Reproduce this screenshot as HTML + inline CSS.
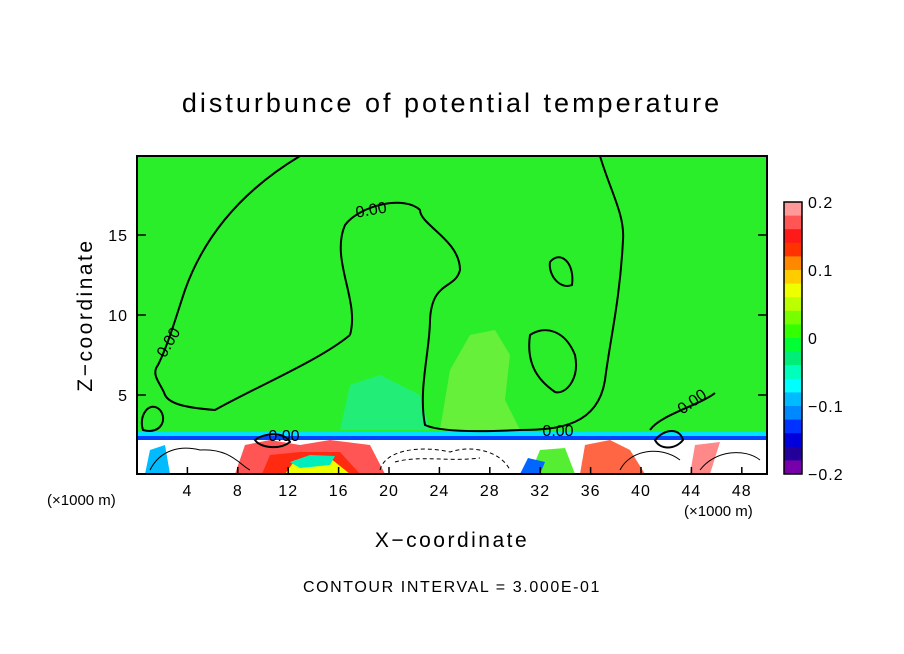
<!DOCTYPE html>
<html><head><meta charset="utf-8"><style>
body{margin:0;background:#fff;width:904px;height:654px;overflow:hidden}
svg{display:block}
text{font-family:"Liberation Sans",sans-serif;fill:#000}
</style></head><body>
<svg id="chart" width="904" height="654" viewBox="0 0 904 654">
<text x="452" y="112" font-size="27" text-anchor="middle" letter-spacing="3">disturbunce of potential temperature</text>
<g id="plot">
<rect x="137" y="156" width="630" height="318" fill="#2aee2a"/>
<path d="M440,430 L450,370 L470,335 L495,330 L510,355 L505,400 L520,430 Z" fill="#66f03a"/>
<path d="M340,430 L350,385 L380,375 L420,395 L430,430 Z" fill="#22ee77"/>
<rect x="137" y="432" width="630" height="5" fill="#00e0ff"/>
<rect x="137" y="436" width="630" height="4" fill="#0044ff"/>
<rect x="137" y="440" width="630" height="34" fill="#fff"/>
<path d="M235,474 L245,445 L270,440 L300,445 L330,440 L370,445 L385,474 Z" fill="#ff5555"/>
<path d="M262,474 L270,455 L300,452 L340,452 L360,474 Z" fill="#ff2a10"/>
<path d="M285,474 L295,460 L330,458 L350,474 Z" fill="#eeff00"/>
<path d="M290,462 L310,455 L335,456 L330,465 L300,468 Z" fill="#00eebb"/>
<path d="M580,474 L585,445 L610,440 L630,450 L645,474 Z" fill="#ff6644"/>
<path d="M530,474 L540,450 L565,448 L575,474 Z" fill="#55ee33"/>
<path d="M520,474 L528,458 L545,462 L540,474 Z" fill="#0066ff"/>
<path d="M690,474 L695,445 L720,442 L710,474 Z" fill="#ff8888"/>
<path d="M145,474 L150,450 L165,445 L170,474 Z" fill="#00bbff"/>
<g fill="none" stroke="#000" stroke-width="2">
<path d="M300,156 C260,180 210,220 185,290 C175,320 168,345 158,365 C150,375 162,385 165,395 C170,405 190,408 215,410 C260,385 320,360 350,335"/>
<path d="M600,156 C610,190 625,215 623,240 C620,300 610,340 605,380 C598,425 560,430 520,430 C480,432 440,432 425,425 C418,390 430,350 430,320 C432,280 455,290 460,270 C460,240 420,225 420,210 C405,195 360,205 345,225 C330,260 360,300 350,335"/>
<path d="M550,262 C560,250 575,262 572,285 C560,290 548,275 550,262 Z"/>
<path d="M530,335 C545,325 565,330 575,355 C580,380 565,395 555,392 C545,385 525,370 530,335 Z"/>
<path d="M143,430 C138,415 150,400 160,410 C168,420 160,435 143,430 Z"/>
<path d="M650,430 C660,415 700,405 715,393"/>
</g>
<g fill="none" stroke="#000" stroke-width="1">
<path d="M150,470 C160,450 180,445 200,450 C230,448 240,465 250,470"/>
<path d="M380,470 C385,450 420,445 450,452 C470,445 500,450 510,470" stroke-dasharray="4,3"/>
<path d="M395,462 C420,455 450,462 480,458" stroke-dasharray="4,3"/>
<path d="M620,470 C630,450 660,445 680,460"/>
<path d="M700,470 C715,450 745,448 760,460"/>
<path d="M255,440 C265,432 285,432 290,442 C280,450 260,448 255,440 Z" stroke-width="2"/>
<path d="M655,440 C665,428 680,428 683,440 C675,450 660,450 655,440 Z" stroke-width="2"/>
</g>
<text x="372" y="215" font-size="16" transform="rotate(-10 372 215)" text-anchor="middle">0.00</text>
<text x="173" y="345" font-size="16" transform="rotate(-60 173 345)" text-anchor="middle">0.00</text>
<text x="558" y="436" font-size="16" text-anchor="middle">0.00</text>
<text x="695" y="406" font-size="16" transform="rotate(-35 695 406)" text-anchor="middle">0.00</text>
<text x="284" y="441" font-size="16" text-anchor="middle">0.00</text>
<rect x="137" y="156" width="630" height="318" fill="none" stroke="#000" stroke-width="2"/>
<g id="axes"></g>
</g>
<text x="452" y="547" font-size="21" text-anchor="middle" letter-spacing="2.5">X−coordinate</text>
<text x="92" y="315" font-size="21" text-anchor="middle" letter-spacing="2.5" transform="rotate(-90 92 315)">Z−coordinate</text>
<text x="47" y="505" font-size="15">(×1000 m)</text>
<text x="684" y="516" font-size="15">(×1000 m)</text>
<text x="452" y="592" font-size="16" text-anchor="middle" letter-spacing="1.6">CONTOUR INTERVAL = 3.000E-01</text>
<g id="colorbar"></g>
</svg>
<script>
const xTicks=[4,8,12,16,20,24,28,32,36,40,44,48];
const zTicks=[5,10,15];
const cbLabels=[0.2,0.1,0,-0.1,-0.2];
const cbColors=["#ff9999","#ff5555","#ff1a1a","#ff3300","#ff8800","#ffcc00","#eeff00","#bbff00","#77ff00","#33ff00","#00ff33","#00ee77","#00ffbb","#00ffff","#00bbff","#0088ff","#0033ff","#0000dd","#220099","#7700aa"];
const NS="http://www.w3.org/2000/svg";
const px=x=>137+12.6*x, py=z=>475-16*z;
const cy=v=>474-(v+0.2)/0.4*272;
function mk(t,a,p){const e=document.createElementNS(NS,t);for(const k in a)e.setAttribute(k,a[k]);p.appendChild(e);return e;}
const ax=document.getElementById('axes');
xTicks.forEach(v=>{
 const l=mk('line',{x1:px(v),x2:px(v),y1:474,y2:467,stroke:'#000','stroke-width':1.5},ax);
 
 
 const t=mk('text',{x:px(v),y:496,'font-size':16,'text-anchor':'middle','letter-spacing':1},ax);t.textContent=v;
 
 
});
zTicks.forEach(v=>{
 const l=mk('line',{x1:137,x2:146,y1:py(v),y2:py(v),stroke:'#000','stroke-width':1.5},ax);
 
 
 const l2=mk('line',{x1:758,x2:767,y1:py(v),y2:py(v),stroke:'#000','stroke-width':1.5},ax);
 
 
 const t=mk('text',{x:128,y:py(v)+6,'font-size':16,'text-anchor':'end','letter-spacing':1},ax);t.textContent=v;
 
 
});
const cb=document.getElementById('colorbar');
const h=272/cbColors.length;
cbColors.forEach((c,i)=>{
 const r=mk('rect',{x:784,y:202+i*h,width:18,height:h+0.5,fill:c},cb);
 
 
});
const fr=mk('rect',{x:784,y:202,width:18,height:272,fill:'none',stroke:'#000','stroke-width':1.5},cb);


cbLabels.forEach(v=>{
 const t=mk('text',{x:808,y:cy(v)+6,'font-size':16,'letter-spacing':1},cb);
 t.textContent=v===0?'0':(v<0?'−'+Math.abs(v):String(v));
 
 
});
</script>
</body></html>
